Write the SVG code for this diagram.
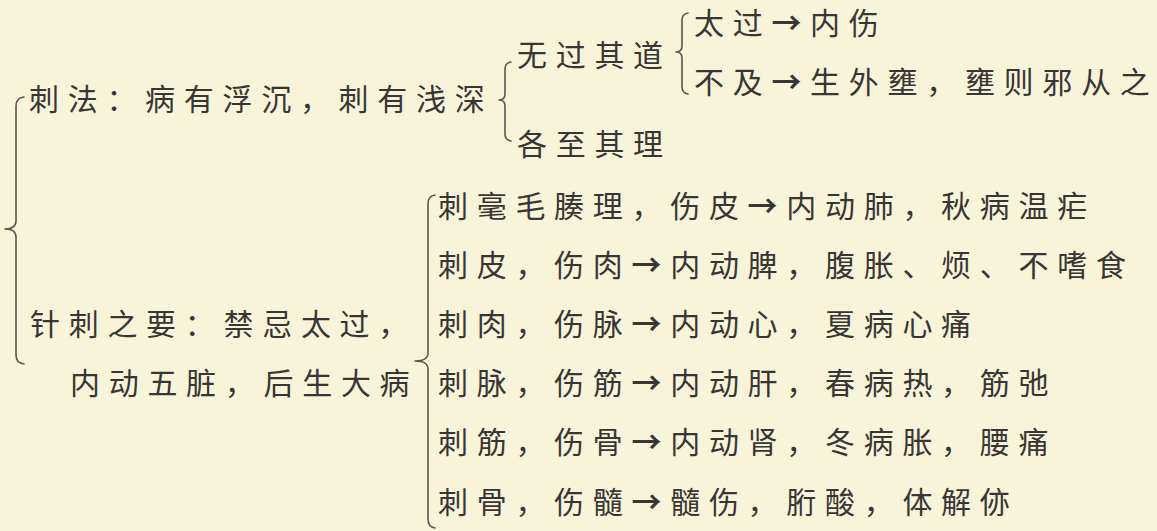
<svg xmlns="http://www.w3.org/2000/svg" width="1157" height="531" viewBox="0 0 1157 531">
<style>
.t{font-family:"Noto Sans CJK SC","Noto Sans CJK TC",sans-serif;font-size:30px;fill:#383634;letter-spacing:8.7px}
.a{font-weight:700}
.b{fill:none;stroke:#5a5650;stroke-width:1.6;stroke-linecap:round;stroke-linejoin:round}
</style>
<rect width="1157" height="531" fill="#f8f4da"/>
<g id="connectors">
<path class="b" d="M24,97 Q16,98 16,106 L16,221 Q16,229 5,229 Q16,229 16,237 L16,355 Q16,363 24,364"/>
<path class="b" d="M511,62 Q505,63 505,69 L505,94 Q505,100 499,100 Q505,100 505,106 L505,134 Q505,140 511,141"/>
<path class="b" d="M688,13 Q682,14 682,20 L682,46 Q682,52 676,52 Q682,52 682,58 L682,87 Q682,93 688,94"/>
<path class="b" d="M435,195 Q428,196 428,204 L428,353 Q428,361 415,361 Q428,361 428,369 L428,519 Q428,527 435,528"/>
</g>
<g id="n-cifa"><text class="t" x="29" y="109.5">刺法：病有浮沉，刺有浅深</text></g>
<g id="n-wuguo"><text class="t" x="517" y="65.5">无过其道</text></g>
<g id="n-gezhi"><text class="t" x="517" y="154.5">各至其理</text></g>
<g id="n-taiguo"><text class="t" x="694" y="33.5">太过<tspan class="a">→</tspan>内伤</text></g>
<g id="n-buji"><text class="t" x="694" y="92.5">不及<tspan class="a">→</tspan>生外壅，壅则邪从之</text></g>
<g id="n-yao"><text class="t" x="30" y="334.9">针刺之要：禁忌太过，</text><text class="t" x="70" y="394.1">内动五脏，后生大病</text></g>
<g id="n-r1"><text class="t" x="438" y="216.5">刺毫毛腠理，伤皮<tspan class="a">→</tspan>内动肺，秋病温疟</text></g>
<g id="n-r2"><text class="t" x="438" y="275.7">刺皮，伤肉<tspan class="a">→</tspan>内动脾，腹胀、烦、不嗜食</text></g>
<g id="n-r3"><text class="t" x="438" y="334.9">刺肉，伤脉<tspan class="a">→</tspan>内动心，夏病心痛</text></g>
<g id="n-r4"><text class="t" x="438" y="394.1">刺脉，伤筋<tspan class="a">→</tspan>内动肝，春病热，筋弛</text></g>
<g id="n-r5"><text class="t" x="438" y="453.3">刺筋，伤骨<tspan class="a">→</tspan>内动肾，冬病胀，腰痛</text></g>
<g id="n-r6"><text class="t" x="438" y="512.5">刺骨，伤髓<tspan class="a">→</tspan>髓伤，胻酸，体解㑊</text></g>
</svg>
